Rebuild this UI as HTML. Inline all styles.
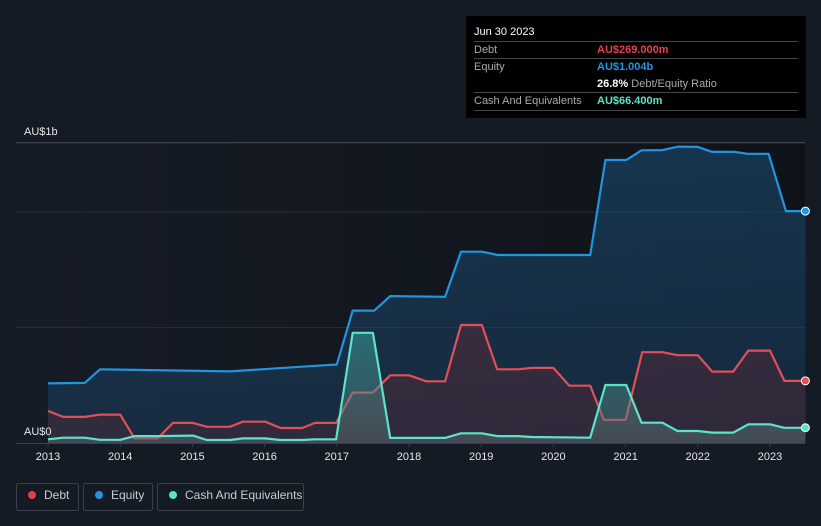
<!DOCTYPE html>
<html><head><meta charset="utf-8"><style>
body{margin:0;background:#151b24;font-family:"Liberation Sans",sans-serif;}
svg{display:block}
</style></head><body>
<svg width="821" height="526" viewBox="0 0 821 526">
<defs>
<linearGradient id="plotbg" x1="0" y1="0" x2="1" y2="0"><stop offset="0" stop-color="#161c26"/><stop offset="1" stop-color="#0f1319"/></linearGradient>
<linearGradient id="eqfill" x1="0" y1="0" x2="0" y2="1"><stop offset="0" stop-color="#1a4a70" stop-opacity="0.6"/><stop offset="1" stop-color="#1a3a58" stop-opacity="0.55"/></linearGradient>
<linearGradient id="dfill" x1="0" y1="0" x2="0" y2="1"><stop offset="0" stop-color="#5a2a38" stop-opacity="0.5"/><stop offset="1" stop-color="#4a2a35" stop-opacity="0.45"/></linearGradient>
<linearGradient id="cfill" x1="0" y1="0" x2="0" y2="1"><stop offset="0" stop-color="#3fb8a8" stop-opacity="0.45"/><stop offset="1" stop-color="#5a6a70" stop-opacity="0.5"/></linearGradient>
</defs>
<rect x="16" y="143" width="789" height="300" fill="url(#plotbg)"/>
<g id="grid"></g>
<g id="series"></g>
<g id="xaxis"></g>
<text x="24" y="135" fill="#e6e6e6" font-size="11">AU$1b</text>
<text x="24" y="435" fill="#e6e6e6" font-size="11">AU$0</text>

<g>
<rect x="466" y="16" width="340" height="102" fill="#000"/>
<text x="474" y="35" fill="#fff" font-size="11">Jun 30 2023</text>
<line x1="474" y1="41.5" x2="798" y2="41.5" stroke="#444"/>
<text x="474" y="53" fill="#aaa" font-size="11">Debt</text>
<text x="597" y="53" fill="#e5414a" font-size="11" font-weight="bold">AU$269.000m</text>
<line x1="474" y1="58.5" x2="798" y2="58.5" stroke="#444"/>
<text x="474" y="70" fill="#aaa" font-size="11">Equity</text>
<text x="597" y="70" fill="#2394e0" font-size="11" font-weight="bold">AU$1.004b</text>
<text x="597" y="87" fill="#aaa" font-size="11"><tspan fill="#fff" font-weight="bold">26.8%</tspan> Debt/Equity Ratio</text>
<line x1="474" y1="92.5" x2="798" y2="92.5" stroke="#444"/>
<text x="474" y="104" fill="#aaa" font-size="11">Cash And Equivalents</text>
<text x="597" y="104" fill="#5de3c9" font-size="11" font-weight="bold">AU$66.400m</text>
<line x1="474" y1="110.5" x2="798" y2="110.5" stroke="#444"/>
</g>

<g>
<rect x="16.5" y="483.5" width="62" height="27" rx="2" fill="none" stroke="#3a404a"/>
<circle cx="32" cy="495" r="4" fill="#e5414a"/>
<text x="44" y="499" fill="#ccc" font-size="12">Debt</text></g>
<g>
<rect x="83.5" y="483.5" width="69" height="27" rx="2" fill="none" stroke="#3a404a"/>
<circle cx="99" cy="495" r="4" fill="#2394e0"/>
<text x="111" y="499" fill="#ccc" font-size="12">Equity</text></g>
<g>
<rect x="157.5" y="483.5" width="146" height="27" rx="2" fill="none" stroke="#3a404a"/>
<circle cx="173" cy="495" r="4" fill="#5de3c9"/>
<text x="185" y="499" fill="#ccc" font-size="12">Cash And Equivalents</text></g>
</svg>
<script>
const years = [2013,2014,2015,2016,2017,2018,2019,2020,2021,2022,2023];
const gridValues = [0.5,1.0,1.3];
const equityDates = [2013.0,2013.51,2013.72,2015.52,2016.49,2017.0,2017.22,2017.52,2017.74,2018.5,2018.72,2019.01,2019.23,2020.51,2020.72,2021.01,2021.22,2021.51,2021.73,2022.0,2022.2,2022.51,2022.69,2022.98,2023.22,2023.49];
const equityValues = [0.258,0.26,0.319,0.31,0.33,0.34,0.573,0.573,0.636,0.633,0.828,0.828,0.814,0.814,1.225,1.225,1.267,1.268,1.283,1.282,1.26,1.26,1.252,1.252,1.004,1.004];
const debtDates = [2013.0,2013.21,2013.51,2013.72,2014.0,2014.2,2014.52,2014.73,2015.01,2015.2,2015.52,2015.7,2016.01,2016.22,2016.52,2016.7,2016.99,2017.22,2017.5,2017.74,2018.0,2018.24,2018.5,2018.72,2019.01,2019.22,2019.51,2019.7,2020.0,2020.22,2020.51,2020.7,2021.0,2021.23,2021.51,2021.72,2022.0,2022.2,2022.49,2022.7,2023.0,2023.2,2023.49];
const debtValues = [0.139,0.113,0.113,0.123,0.123,0.02,0.02,0.087,0.087,0.07,0.07,0.092,0.092,0.065,0.065,0.087,0.087,0.218,0.218,0.293,0.293,0.267,0.267,0.511,0.511,0.319,0.319,0.325,0.325,0.248,0.248,0.1,0.1,0.393,0.393,0.38,0.38,0.309,0.309,0.4,0.4,0.269,0.269];
const cashDates = [2013.0,2013.21,2013.51,2013.72,2014.0,2014.2,2014.52,2015.01,2015.2,2015.52,2015.7,2016.01,2016.22,2016.52,2016.7,2016.99,2017.22,2017.5,2017.74,2018.5,2018.72,2019.01,2019.22,2019.51,2019.7,2020.51,2020.72,2021.01,2021.22,2021.51,2021.72,2022.0,2022.2,2022.49,2022.7,2023.0,2023.2,2023.49];
const cashValues = [0.016,0.023,0.023,0.014,0.014,0.03,0.03,0.032,0.013,0.013,0.02,0.02,0.013,0.013,0.016,0.016,0.477,0.477,0.022,0.022,0.042,0.042,0.03,0.03,0.026,0.023,0.251,0.251,0.088,0.088,0.052,0.052,0.045,0.045,0.081,0.081,0.066,0.066];

const NS="http://www.w3.org/2000/svg";
const X0=16,X1=805,Y0=443;
function xs(t){return 48+(t-2013)*72.2;}
function ys(v){return Y0-v*231;}
function mk(tag,attrs,parent){const e=document.createElementNS(NS,tag);for(const k in attrs)e.setAttribute(k,attrs[k]);parent.appendChild(e);return e;}
const grid=document.getElementById('grid');
gridValues.forEach(v=>{
  const l=mk('line',{x1:X0,x2:X1,y1:ys(v),y2:ys(v),stroke:v===1.3?'#4a4f58':'#262c36','stroke-width':1},grid);
  
  
});
const ax=document.getElementById('xaxis');
const base=mk('line',{x1:X0,x2:X1,y1:Y0+0.5,y2:Y0+0.5,stroke:'#3a404a'},ax);


years.forEach(y=>{
  const t=mk('line',{x1:xs(y),x2:xs(y),y1:Y0,y2:Y0+4,stroke:'#3a404a'},ax);
  
  
  const tx=mk('text',{x:xs(y),y:460,fill:'#e6e6e6','font-size':11,'text-anchor':'middle'},ax);
  tx.textContent=y;
  
  
});
const sg=document.getElementById('series');
function series(dates,vals,color,fill,name){
  const pts=dates.map((d,i)=>xs(d).toFixed(1)+','+ys(vals[i]).toFixed(1));
  const area=mk('path',{d:'M'+xs(dates[0])+','+Y0+' L'+pts.join(' L')+' L'+xs(dates[dates.length-1])+','+Y0+' Z',fill:fill},sg);
  
  
  const line=mk('path',{d:'M'+pts.join(' L'),fill:'none',stroke:color,'stroke-width':2.2,'stroke-linejoin':'round'},sg);
  
  
  const n=dates.length-1;
  const dot=mk('circle',{cx:xs(dates[n]),cy:ys(vals[n]),r:4,fill:color,stroke:'#fff','stroke-width':1},sg);
  
  
}
series(equityDates,equityValues,'#2394e0','url(#eqfill)','equity');
series(debtDates,debtValues,'#e0505a','url(#dfill)','debt');
series(cashDates,cashValues,'#5de3c9','url(#cfill)','cash');
</script>
</body></html>
